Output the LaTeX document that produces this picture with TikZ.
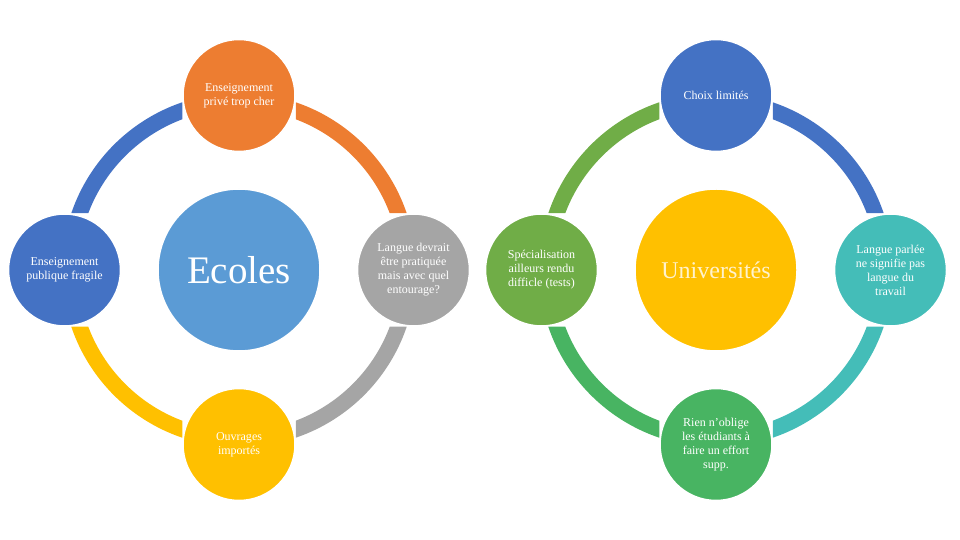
\documentclass[tikz,border=0pt]{standalone}
\usepackage{fontspec}
\setmainfont{Liberation Serif}
\pgfdeclarelayer{background}
\pgfsetlayers{background,main}
\definecolor{cOrange}{HTML}{ED7D31}
\definecolor{cBlue}{HTML}{4472C4}
\definecolor{cYellow}{HTML}{FFC000}
\definecolor{cGray}{HTML}{A5A5A5}
\definecolor{cLBlue}{HTML}{5B9BD5}
\definecolor{cGreen}{HTML}{70AD47}
\definecolor{cTeal}{HTML}{44BDB8}
\definecolor{cGreenB}{HTML}{48B462}
\definecolor{cCream}{HTML}{FFF2CC}
\tikzset{
  bubble/.style={circle, minimum size=112pt, inner sep=0pt, fill=#1, draw=white,
    line width=1.5pt, text=white, align=center, font=\fontsize{12}{14}\selectfont},
  hub/.style={circle, minimum size=162pt, inner sep=0pt, fill=#1, draw=white, line width=1.5pt},
  ringseg/.style={line width=16pt, draw=#1}
}
\begin{document}
\begin{tikzpicture}[x=1pt,y=1pt]
\useasboundingbox (0,0) rectangle (960,540);
% left cycle
\node[hub=cLBlue, text=white, font=\fontsize{39}{39}\selectfont] (L) at (239,270) {Ecoles};
\node[bubble=cOrange] (Lt) at (239,444.5) {Enseignement\\privé trop cher};
\node[bubble=cBlue] (Ll) at (64.5,270) {Enseignement\\publique fragile};
\node[bubble=cYellow] (Lb) at (239,95.5) {Ouvrages\\importés};
\node[bubble=cGray] (Lr) at (413.5,270) {Langue devrait\\être pratiquée\\mais avec quel\\entourage?};
% right cycle
\node[hub=cYellow, text=cCream, font=\fontsize{24}{24}\selectfont] (R) at (716,270) {Universités};
\node[bubble=cBlue] (Rt) at (716,444.5) {Choix limités};
\node[bubble=cGreen] (Rl) at (541.5,270) {Spécialisation\\ailleurs rendu\\difficle (tests)};
\node[bubble=cTeal] (Rr) at (890.5,270) {Langue parlée\\ne signifie pas\\langue du\\travail};
\node[bubble=cGreenB] (Rb) at (716,95.5) {Rien n’oblige\\les étudiants à\\faire un effort\\supp.};
\begin{pgfonlayer}{background}
\begin{scope}[even odd rule]
\clip (0,0) rectangle (960,540)
  (Lt.west |- Lt.south) rectangle (Lt.east |- Lt.north)
  (Ll.west |- Ll.south) rectangle (Ll.east |- Ll.north)
  (Lb.west |- Lb.south) rectangle (Lb.east |- Lb.north)
  (Lr.west |- Lr.south) rectangle (Lr.east |- Lr.north)
  (Rt.west |- Rt.south) rectangle (Rt.east |- Rt.north)
  (Rl.west |- Rl.south) rectangle (Rl.east |- Rl.north)
  (Rb.west |- Rb.south) rectangle (Rb.east |- Rb.north)
  (Rr.west |- Rr.south) rectangle (Rr.east |- Rr.north);
\draw[ringseg=cBlue]   (L.center) ++(90:169) arc[start angle=90, end angle=180, radius=169];
\draw[ringseg=cOrange] (L.center) ++(0:169) arc[start angle=0, end angle=90, radius=169];
\draw[ringseg=cGray]   (L.center) ++(-90:169) arc[start angle=-90, end angle=0, radius=169];
\draw[ringseg=cYellow] (L.center) ++(180:169) arc[start angle=180, end angle=270, radius=169];
\draw[ringseg=cGreen]  (R.center) ++(90:169) arc[start angle=90, end angle=180, radius=169];
\draw[ringseg=cBlue]   (R.center) ++(0:169) arc[start angle=0, end angle=90, radius=169];
\draw[ringseg=cTeal]   (R.center) ++(-90:169) arc[start angle=-90, end angle=0, radius=169];
\draw[ringseg=cGreenB] (R.center) ++(180:169) arc[start angle=180, end angle=270, radius=169];
\end{scope}
\end{pgfonlayer}
\end{tikzpicture}
\end{document}
